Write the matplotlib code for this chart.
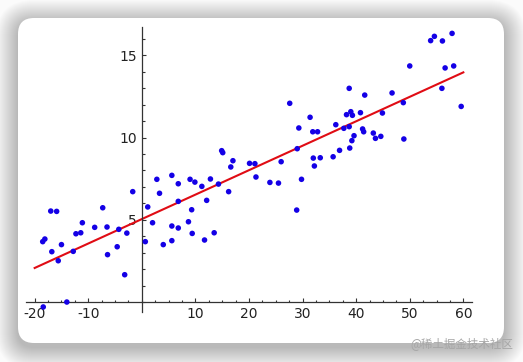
import matplotlib
matplotlib.use("Agg")
import matplotlib.pyplot as plt
from matplotlib.patches import FancyBboxPatch
from matplotlib.ticker import MultipleLocator, FixedLocator, FixedFormatter

# ---- data ----
x_values = [-18.4, -14.0, -18.5, -18.1, -17.0, -15.9, -16.8, -15.6, -15.0, -12.8,
            -12.3, -11.4, -11.1, -8.8, -7.3, -6.5, -6.4, -4.6, -4.3, -3.2,
            -2.8, -1.7, 0.65, 1.1, 2.0, 2.8, 3.3, 4.0, 5.6, 5.6,
            5.6, 6.8, 6.8, 6.8, 8.7, 9.0, 9.3, 9.4, 9.9, 11.2,
            11.7, 12.1, 12.8, 13.5, 14.3, 14.9, 15.1, 16.2, 16.6, 17.0,
            20.1, 21.1, 21.3, 23.9, 25.5, 26.0, 27.6, 29.0, 29.3, 28.9,
            29.8, 31.4, 31.9, 32.8, 32.0, 32.2, 33.3, 35.7, 36.2, 36.9,
            37.7, 38.2, 38.7, 38.7, 38.8, 39.0, 39.3, 39.2, 39.6, 40.8,
            41.2, 41.4, 41.6, 43.2, 43.6, 44.6, 44.9, 46.7, 48.8, 48.9,
            50.0, 53.9, 54.6, 56.1, 56.6, 56.0, 57.9, 58.2, 59.6]
y_values = [-0.3, 0.0, 3.67, 3.83, 5.53, 5.51, 3.06, 2.51, 3.49, 3.08,
            4.15, 4.21, 4.82, 4.54, 5.73, 4.56, 2.88, 3.36, 4.42, 1.66,
            4.19, 6.71, 3.67, 5.78, 4.82, 7.46, 6.61, 3.49, 7.70, 4.62,
            3.73, 7.19, 6.12, 4.50, 4.88, 7.46, 5.61, 4.17, 7.29, 7.03,
            3.77, 6.18, 7.48, 4.21, 7.17, 9.20, 9.08, 6.71, 8.21, 8.59,
            8.43, 8.41, 7.60, 7.27, 7.23, 8.53, 12.08, 9.32, 10.58, 5.59,
            7.46, 11.23, 10.35, 10.35, 8.75, 8.27, 8.77, 8.83, 10.78, 9.22,
            10.56, 11.39, 10.66, 12.99, 9.36, 11.57, 11.35, 9.81, 10.11, 11.51,
            10.52, 10.35, 12.58, 10.27, 9.95, 10.07, 11.49, 12.71, 12.12, 9.91,
            14.35, 15.89, 16.15, 15.87, 14.23, 12.99, 16.33, 14.35, 11.89]
line_x = [-20, 60]
line_y = [2.07, 13.96]
x_ticks = [-20, -10, 10, 20, 30, 40, 50, 60]
x_tick_labels = ["-20", "-10", "10", "20", "30", "40", "50", "60"]
y_ticks = [5, 10, 15]
y_tick_labels = ["5", "10", "15"]
watermark = "@稀土掘金技术社区"

W, H = 523, 362
fig = plt.figure(figsize=(W / 100, H / 100), dpi=100)
fig.patch.set_facecolor("#fbfbfb")

# background card with shadow
bg = fig.add_axes([0, 0, 1, 1], zorder=0)
bg.set_xlim(0, W)
bg.set_ylim(H, 0)
bg.axis("off")
cx0, cy0, cx1, cy1 = 18, 18, 504, 343
for i in range(22, 0, -1):
    bg.add_patch(FancyBboxPatch((cx0 - i, cy0 - i + 4), (cx1 - cx0) + 2 * i, (cy1 - cy0) + 2 * i,
                                boxstyle=f"round,pad=0,rounding_size={16 + i}",
                                facecolor="black", edgecolor="none", alpha=0.011))
bg.add_patch(FancyBboxPatch((cx0, cy0), cx1 - cx0, cy1 - cy0,
                            boxstyle="round,pad=0,rounding_size=16",
                            facecolor="white", edgecolor="none"))

# main plot axes
left, right = 26.1, 471.9
top, bottom = 27.3, 311.9
ax = fig.add_axes([left / W, 1 - bottom / H, (right - left) / W, (bottom - top) / H], zorder=1)
ax.patch.set_alpha(0)
ax.set_xlim(-21.6, 61.6)
ax.set_ylim(-0.6, 16.7)

for s in ["top", "right"]:
    ax.spines[s].set_visible(False)
ax.spines["left"].set_position(("data", 0))
ax.spines["bottom"].set_position(("data", 0))
for s in ["left", "bottom"]:
    ax.spines[s].set_color("#333333")
    ax.spines[s].set_linewidth(0.9)

ax.xaxis.set_major_locator(FixedLocator(x_ticks))
ax.xaxis.set_major_formatter(FixedFormatter(x_tick_labels))
ax.yaxis.set_major_locator(FixedLocator(y_ticks))
ax.yaxis.set_major_formatter(FixedFormatter(y_tick_labels))
ax.xaxis.set_minor_locator(MultipleLocator(2.5))
ax.yaxis.set_minor_locator(MultipleLocator(1))
ax.tick_params(which="both", direction="in", color="#333333", width=0.8,
               labelsize=10, labelcolor="#222222")
ax.tick_params(which="major", length=3.2)
ax.tick_params(which="minor", length=1.8)
ax.tick_params(axis="y", pad=3.5)
ax.tick_params(axis="x", pad=3.5)

ax.plot(line_x, line_y, color="#e00c14", linewidth=1.5, zorder=2)
ax.scatter(x_values, y_values, s=16, color="#1400e6", edgecolors="none", zorder=3, clip_on=False)

fig.text(462 / W, 1 - 344 / H, watermark, ha="center", va="center", fontsize=8.3,
         color="#a6a6a6", family=["Noto Sans CJK SC", "DejaVu Sans"], zorder=10)

fig.savefig("out.png", dpi=100)
